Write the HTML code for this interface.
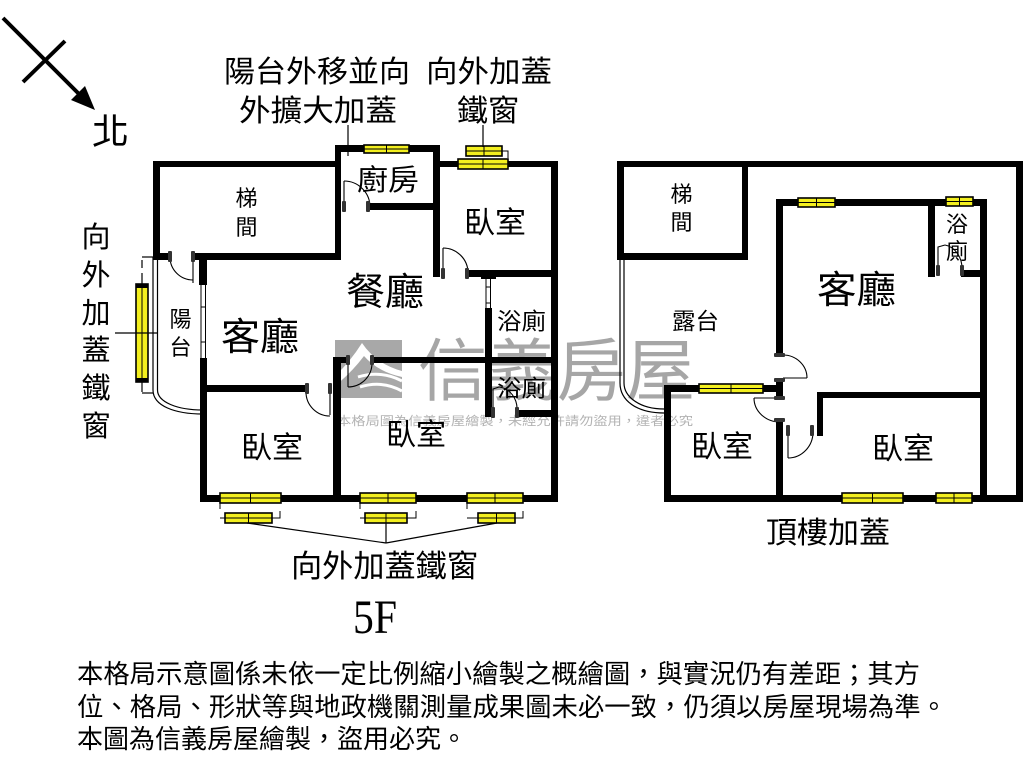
<!DOCTYPE html>
<html><head><meta charset="utf-8">
<style>
html,body{margin:0;padding:0;background:#fff;}
svg{display:block;}
text{font-family:"Liberation Sans","Noto Sans CJK TC",sans-serif;fill:#000;}
</style></head>
<body>
<svg width="1024" height="768" viewBox="0 0 1024 768" xmlns="http://www.w3.org/2000/svg">
<rect width="1024" height="768" fill="#fff"/>

<!-- Watermark -->
<g>
  <rect x="335" y="340" width="67" height="58" fill="#a8a8a8"/>
  <path d="M335,376 Q350,362 362,343 Q376,364 402,371 L402,377 Q378,372 364,356 Q352,372 335,386 Z" fill="#fff"/>
  <path d="M358,377 Q381,370 402,381" stroke="#fff" stroke-width="3" fill="none"/>
  <path d="M360,387 Q382,380 402,391" stroke="#fff" stroke-width="3" fill="none"/>
  <text x="418" y="395" font-size="68" textLength="277" lengthAdjust="spacingAndGlyphs" style="fill:#a6a6a6">信義房屋</text>
  <text x="337" y="425" font-size="12" textLength="356" lengthAdjust="spacingAndGlyphs" style="fill:#b3b3b3">本格局圖為信義房屋繪製，未經允許請勿盜用，違者必究</text>
</g>

<!-- North arrow -->
<line x1="3" y1="18" x2="86" y2="101" stroke="#000" stroke-width="4"/>
<polygon points="95,110 71,100 85,86" fill="#000"/>
<line x1="23" y1="82" x2="65" y2="41" stroke="#000" stroke-width="4"/>

<!-- LEFT PLAN walls -->
<g fill="#000">
  <rect x="153" y="161" width="7" height="99"/>
  <rect x="153" y="161" width="188" height="6"/>
  <rect x="335" y="145" width="6" height="115"/>
  <rect x="335" y="145" width="105" height="7"/>
  <rect x="433" y="145" width="7" height="132"/>
  <rect x="368" y="203" width="72" height="7"/>
  <rect x="433" y="161" width="125" height="6"/>
  <rect x="551" y="161" width="7" height="341"/>
  <rect x="467" y="270" width="91" height="7"/>
  <rect x="153" y="253" width="17" height="7"/>
  <rect x="193" y="253" width="148" height="7"/>
  <rect x="199" y="253" width="8" height="32"/>
  <rect x="200" y="358" width="7" height="144"/>
  <rect x="200" y="385" width="107" height="7"/>
  <rect x="333" y="357" width="8" height="145"/>
  <rect x="333" y="357" width="15" height="6"/>
  <rect x="372" y="357" width="186" height="6"/>
  <rect x="485" y="308" width="7" height="109"/>
  <rect x="517" y="410" width="41" height="7"/>
  <rect x="200" y="495" width="358" height="7"/>
</g>

<!-- sliding doors left plan -->
<g stroke="#000" fill="none" stroke-width="1">
  <line x1="201" y1="285" x2="201" y2="358"/>
  <line x1="205.5" y1="285" x2="205.5" y2="358"/>
  <rect x="201" y="307" width="4.5" height="35" fill="#fff"/>
  <line x1="486" y1="277" x2="486" y2="308"/>
  <line x1="490.5" y1="277" x2="490.5" y2="308"/>
  <rect x="486" y="287" width="4.5" height="16" fill="#fff"/>
  <line x1="481" y1="278" x2="496" y2="278" stroke-width="2"/>
</g>

<!-- balcony curve left -->
<g stroke="#000" fill="none" stroke-width="1.2">
  <path d="M153,257 L153,390 C153,406 175,414 203,414"/>
  <path d="M157.5,257 L157.5,390 C157.5,402 177,410 203,410"/>
</g>

<!-- doors left plan -->
<g stroke="#000" fill="none" stroke-width="1.1">
  <line x1="193" y1="257" x2="193" y2="283"/>
  <path d="M170,257 A23,23 0 0,0 193,280"/>
  <line x1="344" y1="207" x2="344" y2="181"/>
  <path d="M344,181 A26,26 0 0,1 370,207"/>
  <line x1="443" y1="273" x2="443" y2="248"/>
  <path d="M443,248 A25,25 0 0,1 468,273"/>
  <line x1="330" y1="392" x2="330" y2="415"/>
  <path d="M306,392 A24,24 0 0,0 330,416"/>
  <line x1="348" y1="363" x2="348" y2="387"/>
  <path d="M348,387 A24,24 0 0,0 372,363"/>
  <path d="M493,412 L493,389 L499,387"/>
  <path d="M499,387 A20,22 0 0,1 517,410"/>
</g>
<!-- jambs -->
<g fill="#333">
  <rect x="168" y="251" width="4" height="11" rx="1"/>
  <rect x="191" y="251" width="4" height="11" rx="1"/>
  <rect x="342" y="201" width="4" height="11" rx="1"/>
  <rect x="366" y="201" width="4" height="11" rx="1"/>
  <rect x="441" y="268" width="4" height="11" rx="1"/>
  <rect x="465" y="268" width="4" height="11" rx="1"/>
  <rect x="305" y="383" width="4" height="11" rx="1"/>
  <rect x="328" y="383" width="4" height="11" rx="1"/>
  <rect x="346" y="355" width="4" height="10" rx="1"/>
  <rect x="370" y="355" width="4" height="10" rx="1"/>
  <rect x="491" y="407" width="4" height="11" rx="1"/>
  <rect x="515" y="407" width="4" height="11" rx="1"/>
</g>

<!-- windows left plan -->
<g stroke="#000" stroke-width="1.6" fill="#f3ef1f">
  <rect x="364" y="145" width="45" height="8"/>
  <rect x="466" y="146" width="36" height="10"/>
  <rect x="458" y="159" width="50" height="10"/>
  <rect x="220" y="493" width="61" height="10"/>
  <rect x="360" y="493" width="56" height="10"/>
  <rect x="467" y="493" width="56" height="10"/>
  <rect x="225" y="513" width="47" height="10"/>
  <rect x="365" y="513" width="42" height="10"/>
  <rect x="478" y="513" width="37" height="10"/>
  <rect x="136" y="284" width="12" height="98"/>
</g>
<g stroke="#000" stroke-width="1" fill="none">
  <path d="M364,149 H409 M386.5,145 V153"/>
  <path d="M466,151 H502 M484,146 V156"/>
  <path d="M458,164 H508 M483,159 V169"/>
  <path d="M220,498 H281 M250.5,493 V503"/>
  <path d="M360,498 H416 M388,493 V503"/>
  <path d="M467,498 H523 M495,493 V503"/>
  <path d="M225,518 H272 M248.5,513 V523"/>
  <path d="M365,518 H407 M386,513 V523"/>
  <path d="M478,518 H515 M496.5,513 V523"/>
  <path d="M142,284 V382"/>
  <path d="M502,151 H508 V158"/>
  <path d="M220,503 V509 M220,518 H225 M280,511 V518 H272"/>
  <path d="M360,503 V509 M360,518 H365 M416,511 V518 H407"/>
  <path d="M467,503 V509 M467,518 H478 M523,511 V518 H515"/>
</g>
<rect x="136" y="284" width="12" height="4" fill="#000"/>
<rect x="136" y="378" width="12" height="4" fill="#000"/>

<!-- leaders -->
<g stroke="#000" stroke-width="1.2" fill="none">
  <line x1="348" y1="125" x2="348" y2="156"/>
  <line x1="483" y1="125" x2="483" y2="147"/>
  <line x1="115" y1="333" x2="157" y2="333"/>
  <line x1="142" y1="260" x2="142" y2="268"/>
  <line x1="142" y1="273" x2="142" y2="284"/>
  <line x1="142" y1="382" x2="142" y2="392"/>
  <line x1="142" y1="257" x2="153" y2="257"/>
  <line x1="142" y1="393" x2="153" y2="393"/>
  <line x1="247" y1="523" x2="386" y2="543"/>
  <line x1="386" y1="523" x2="386" y2="543"/>
  <line x1="497" y1="523" x2="386" y2="543"/>
</g>

<!-- RIGHT PLAN walls -->
<g fill="#000">
  <rect x="617" y="161" width="406" height="6"/>
  <rect x="617" y="161" width="7" height="99"/>
  <rect x="742" y="161" width="6" height="99"/>
  <rect x="617" y="253" width="131" height="7"/>
  <rect x="1016" y="161" width="7" height="341"/>
  <rect x="664" y="495" width="359" height="7"/>
  <rect x="664" y="385" width="7" height="117"/>
  <rect x="664" y="385" width="119" height="7"/>
  <rect x="776" y="199" width="7" height="156"/>
  <rect x="776" y="380" width="7" height="18"/>
  <rect x="776" y="420" width="7" height="82"/>
  <rect x="817" y="392" width="170" height="6"/>
  <rect x="817" y="392" width="6" height="44"/>
  <rect x="776" y="199" width="211" height="7"/>
  <rect x="928" y="199" width="7" height="78"/>
  <rect x="961" y="270" width="26" height="7"/>
  <rect x="980" y="199" width="7" height="303"/>
</g>
<!-- balcony curve right -->
<g stroke="#000" fill="none" stroke-width="1.2">
  <path d="M620,260 L620,383 C620,400 636,413 664,413"/>
  <path d="M624,260 L624,383 C624,397 640,409 664,409"/>
</g>
<!-- doors right -->
<g stroke="#000" fill="none" stroke-width="1.1">
  <line x1="783" y1="378" x2="807" y2="378"/>
  <path d="M783,355 A24,23 0 0,1 807,378"/>
  <line x1="754" y1="398" x2="780" y2="398"/>
  <path d="M754,398 A26,24 0 0,0 780,422"/>
  <line x1="788" y1="432" x2="788" y2="458"/>
  <path d="M788,458 A25,26 0 0,0 813,432"/>
  <path d="M938,272 L938,247 L945,245"/>
  <path d="M945,245 A20,24 0 0,1 962,270"/>
</g>
<g fill="#333">
  <rect x="774" y="353" width="11" height="4" rx="1"/>
  <rect x="774" y="378" width="11" height="4" rx="1"/>
  <rect x="774" y="396" width="11" height="4" rx="1"/>
  <rect x="774" y="418" width="11" height="4" rx="1"/>
  <rect x="786" y="425" width="4" height="11" rx="1"/>
  <rect x="810" y="425" width="4" height="11" rx="1"/>
  <rect x="936" y="265" width="4" height="11" rx="1"/>
  <rect x="960" y="265" width="4" height="11" rx="1"/>
</g>
<!-- windows right -->
<g stroke="#000" stroke-width="1.6" fill="#f3ef1f">
  <rect x="798" y="198" width="37" height="9"/>
  <rect x="946" y="197" width="27" height="9"/>
  <rect x="699" y="384" width="64" height="9"/>
  <rect x="842" y="493" width="61" height="10"/>
  <rect x="936" y="493" width="36" height="10"/>
</g>
<g stroke="#000" stroke-width="1" fill="none">
  <path d="M798,202.5 H835 M816.5,198 V207"/>
  <path d="M946,201.5 H973 M959.5,197 V206"/>
  <path d="M699,388.5 H763 M731,384 V393"/>
  <path d="M842,498 H903 M872.5,493 V503"/>
  <path d="M936,498 H972 M954,493 V503"/>
</g>

<!-- LABELS -->
<text x="92" y="144" font-size="36" textLength="37" lengthAdjust="spacingAndGlyphs">北</text>
<text x="224" y="82" font-size="30" textLength="186" lengthAdjust="spacingAndGlyphs">陽台外移並向</text>
<text x="239" y="121" font-size="30" textLength="158" lengthAdjust="spacingAndGlyphs">外擴大加蓋</text>
<text x="426" y="82" font-size="30" textLength="126" lengthAdjust="spacingAndGlyphs">向外加蓋</text>
<text x="457" y="121" font-size="30" textLength="62" lengthAdjust="spacingAndGlyphs">鐵窗</text>

<g font-size="29" text-anchor="middle">
  <text x="96" y="247">向</text>
  <text x="96" y="285">外</text>
  <text x="96" y="323">加</text>
  <text x="96" y="360">蓋</text>
  <text x="96" y="398">鐵</text>
  <text x="96" y="436">窗</text>
</g>

<g font-size="22" text-anchor="middle">
  <text x="246.5" y="206">梯</text>
  <text x="246.5" y="235">間</text>
  <text x="180.5" y="327">陽</text>
  <text x="180.5" y="355">台</text>
  <text x="681.5" y="202">梯</text>
  <text x="681.5" y="230">間</text>
  <text x="957" y="232">浴</text>
  <text x="957" y="259">廁</text>
</g>

<text x="357" y="190" font-size="29" textLength="62" lengthAdjust="spacingAndGlyphs">廚房</text>
<text x="464" y="233" font-size="30" textLength="62" lengthAdjust="spacingAndGlyphs">臥室</text>
<text x="346" y="305" font-size="38" textLength="78" lengthAdjust="spacingAndGlyphs">餐廳</text>
<text x="221" y="350" font-size="38" textLength="78" lengthAdjust="spacingAndGlyphs">客廳</text>
<text x="497" y="329" font-size="23" textLength="49" lengthAdjust="spacingAndGlyphs">浴廁</text>
<text x="497" y="396" font-size="23" textLength="49" lengthAdjust="spacingAndGlyphs">浴廁</text>
<text x="241" y="458" font-size="30" textLength="62" lengthAdjust="spacingAndGlyphs">臥室</text>
<text x="386" y="445" font-size="30" textLength="60" lengthAdjust="spacingAndGlyphs">臥室</text>
<text x="291" y="577" font-size="31" textLength="187" lengthAdjust="spacingAndGlyphs">向外加蓋鐵窗</text>
<text x="353" y="633" font-size="48" textLength="44" lengthAdjust="spacingAndGlyphs" style="font-family:'Liberation Serif',serif">5F</text>

<text x="672" y="329" font-size="23" textLength="47" lengthAdjust="spacingAndGlyphs">露台</text>
<text x="817" y="303" font-size="38" textLength="79" lengthAdjust="spacingAndGlyphs">客廳</text>
<text x="691" y="457" font-size="30" textLength="62" lengthAdjust="spacingAndGlyphs">臥室</text>
<text x="872" y="459" font-size="30" textLength="62" lengthAdjust="spacingAndGlyphs">臥室</text>
<text x="766" y="543" font-size="30" textLength="124" lengthAdjust="spacingAndGlyphs">頂樓加蓋</text>

<text x="77" y="683" font-size="26" textLength="843" lengthAdjust="spacingAndGlyphs">本格局示意圖係未依一定比例縮小繪製之概繪圖，與實況仍有差距；其方</text>
<text x="77" y="716" font-size="26" textLength="870" lengthAdjust="spacingAndGlyphs">位、格局、形狀等與地政機關測量成果圖未必一致，仍須以房屋現場為準。</text>
<text x="77" y="748" font-size="26">本圖為信義房屋繪製，盜用必究。</text>
</svg>
</body></html>
